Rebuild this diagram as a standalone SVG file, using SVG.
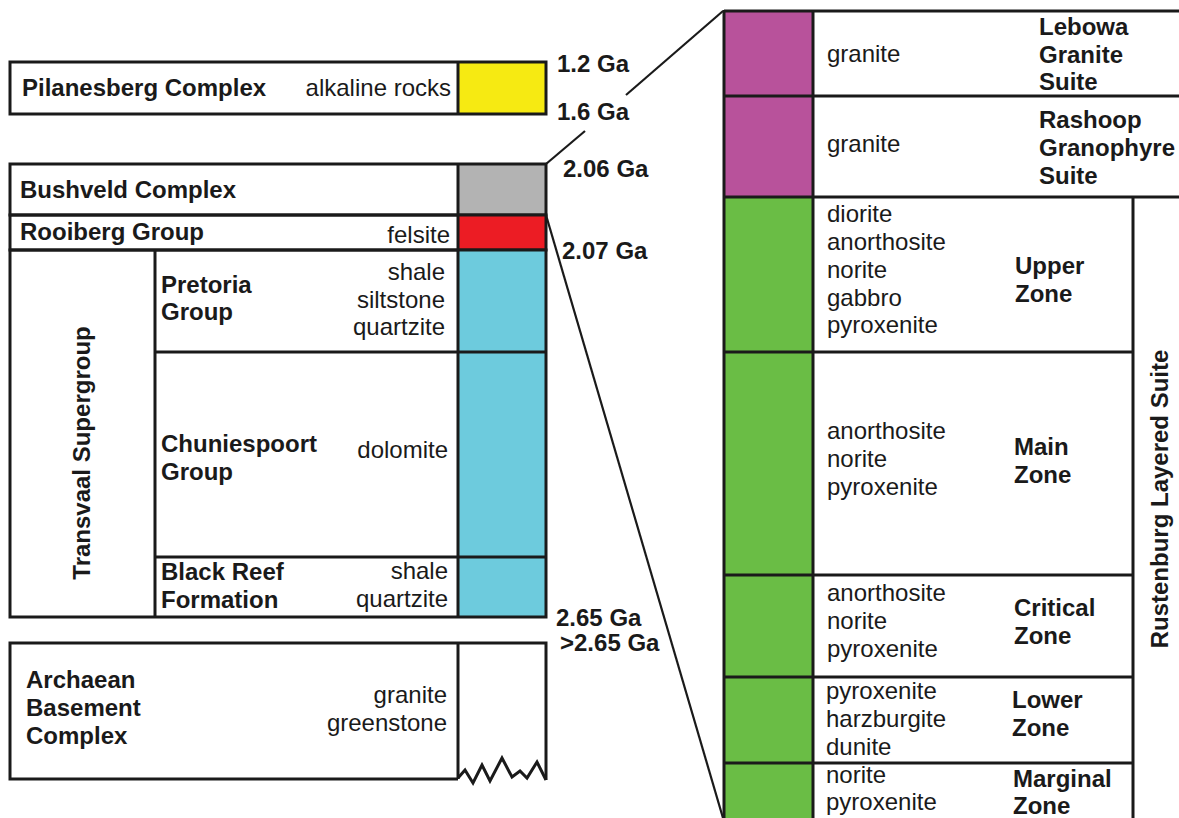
<svg xmlns="http://www.w3.org/2000/svg" width="1179" height="818" viewBox="0 0 1179 818">
<style>
text{font-family:"Liberation Sans",Arial,sans-serif;font-size:24px;fill:#1a1a1a}
.b{font-weight:bold}
.r{text-anchor:end}
.m{text-anchor:middle}
.box{fill:none;stroke:#1a1a1a;stroke-width:3}
.ln{stroke:#1a1a1a;stroke-width:3;fill:none}
.dg{stroke:#1a1a1a;stroke-width:2.2;fill:none}
</style>
<rect width="1179" height="818" fill="#ffffff"/>

<g id="pilanesberg">
<rect x="458" y="62" width="88" height="52" fill="#F6EA12"/>
<rect class="box" x="10" y="62" width="536" height="52"/>
<line class="ln" x1="458" y1="62" x2="458" y2="114"/>
<text class="b" x="22" y="96">Pilanesberg Complex</text>
<text class="r" x="451" y="96">alkaline rocks</text>
</g>

<g id="bushveld">
<rect x="458" y="164" width="88" height="51" fill="#B3B3B3"/>
<rect class="box" x="10" y="164" width="536" height="51"/>
<line class="ln" x1="458" y1="164" x2="458" y2="215"/>
<text class="b" x="20" y="198">Bushveld Complex</text>
</g>

<g id="rooiberg">
<rect x="458" y="215" width="88" height="35" fill="#EC1C24"/>
<rect class="box" x="10" y="215" width="536" height="35"/>
<line class="ln" x1="458" y1="215" x2="458" y2="250"/>
<text class="b" x="20" y="240">Rooiberg Group</text>
<text class="r" x="450" y="243">felsite</text>
</g>

<g id="transvaal">
<rect x="458" y="250" width="88" height="367" fill="#6DCBDD"/>
<rect class="box" x="10" y="250" width="536" height="367"/>
<line class="ln" x1="155" y1="250" x2="155" y2="617"/>
<line class="ln" x1="458" y1="250" x2="458" y2="617"/>
<text class="b m" transform="translate(90,453) rotate(-90)">Transvaal Supergroup</text>
</g>

<g id="pretoria">
<line class="ln" x1="155" y1="352" x2="546" y2="352"/>
<text class="b" x="161" y="293">Pretoria</text>
<text class="b" x="161" y="320">Group</text>
<text class="r" x="445" y="280">shale</text>
<text class="r" x="445" y="308">siltstone</text>
<text class="r" x="445" y="335">quartzite</text>
</g>

<g id="chuniespoort">
<line class="ln" x1="155" y1="557" x2="546" y2="557"/>
<text class="b" x="161" y="452">Chuniespoort</text>
<text class="b" x="161" y="480">Group</text>
<text class="r" x="448" y="458">dolomite</text>
</g>

<g id="blackreef">
<text class="b" x="161" y="580">Black Reef</text>
<text class="b" x="161" y="608">Formation</text>
<text class="r" x="448" y="579">shale</text>
<text class="r" x="448" y="607">quartzite</text>
</g>

<g id="archaean">
<path class="ln" d="M458,779 L10,779 L10,643 L546,643 L546,780"/>
<line class="ln" x1="458" y1="643" x2="458" y2="779"/>
<polyline class="ln" stroke-linejoin="miter" points="458,778 465,770 473,783 482,765 490,781 502,758 512,777 520,771 527,778 537,762 546,780"/>
<text class="b" x="26" y="688">Archaean</text>
<text class="b" x="26" y="716">Basement</text>
<text class="b" x="26" y="744">Complex</text>
<text class="r" x="447" y="703">granite</text>
<text class="r" x="447" y="731">greenstone</text>
</g>

<g id="ages">
<text class="b" x="557" y="72">1.2 Ga</text>
<text class="b" x="557" y="120">1.6 Ga</text>
<text class="b" x="563" y="177">2.06 Ga</text>
<text class="b" x="562" y="259">2.07 Ga</text>
<text class="b" x="556" y="626">2.65 Ga</text>
<text class="b" x="560" y="651">&gt;2.65 Ga</text>
</g>

<g id="connectors">
<line class="dg" x1="546" y1="164" x2="585" y2="131"/>
<line class="dg" x1="626" y1="95" x2="723" y2="11"/>
<line class="dg" x1="546" y1="215" x2="723" y2="818"/>
</g>

<g id="lebowa">
<rect x="724" y="11" width="89" height="85" fill="#B8529B"/>
<text x="827" y="62">granite</text>
<text class="b" x="1039" y="35">Lebowa</text>
<text class="b" x="1039" y="63">Granite</text>
<text class="b" x="1039" y="90">Suite</text>
</g>

<g id="rashoop">
<rect x="724" y="96" width="89" height="101" fill="#B8529B"/>
<text x="827" y="152">granite</text>
<text class="b" x="1039" y="128">Rashoop</text>
<text class="b" x="1039" y="156">Granophyre</text>
<text class="b" x="1039" y="184">Suite</text>
</g>

<g id="rustenburg">
<rect x="724" y="197" width="89" height="621" fill="#6ABD45"/>
<text class="b m" transform="translate(1168,499) rotate(-90)">Rustenburg Layered Suite</text>
</g>

<g id="upper">
<text x="827" y="222">diorite</text>
<text x="827" y="250">anorthosite</text>
<text x="827" y="278">norite</text>
<text x="827" y="306">gabbro</text>
<text x="827" y="333">pyroxenite</text>
<text class="b" x="1015" y="274">Upper</text>
<text class="b" x="1015" y="302">Zone</text>
</g>

<g id="main">
<text x="827" y="439">anorthosite</text>
<text x="827" y="467">norite</text>
<text x="827" y="495">pyroxenite</text>
<text class="b" x="1014" y="455">Main</text>
<text class="b" x="1014" y="483">Zone</text>
</g>

<g id="critical">
<text x="827" y="601">anorthosite</text>
<text x="827" y="629">norite</text>
<text x="827" y="657">pyroxenite</text>
<text class="b" x="1014" y="616">Critical</text>
<text class="b" x="1014" y="644">Zone</text>
</g>

<g id="lower">
<text x="826" y="699">pyroxenite</text>
<text x="826" y="727">harzburgite</text>
<text x="826" y="755">dunite</text>
<text class="b" x="1012" y="708">Lower</text>
<text class="b" x="1012" y="736">Zone</text>
</g>

<g id="marginal">
<text x="826" y="783">norite</text>
<text x="826" y="810">pyroxenite</text>
<text class="b" x="1013" y="787">Marginal</text>
<text class="b" x="1013" y="814">Zone</text>
</g>

<g id="rightframe">
<line class="ln" x1="724" y1="11" x2="1179" y2="11"/>
<line class="ln" x1="724" y1="10" x2="724" y2="818"/>
<line class="ln" x1="813" y1="11" x2="813" y2="818"/>
<line class="ln" x1="724" y1="96" x2="1179" y2="96"/>
<line class="ln" x1="724" y1="197" x2="1179" y2="197"/>
<line class="ln" x1="1133" y1="197" x2="1133" y2="818"/>
<line class="ln" x1="724" y1="352" x2="1133" y2="352"/>
<line class="ln" x1="724" y1="575" x2="1133" y2="575"/>
<line class="ln" x1="724" y1="677" x2="1133" y2="677"/>
<line class="ln" x1="724" y1="763" x2="1133" y2="763"/>
</g>
</svg>
